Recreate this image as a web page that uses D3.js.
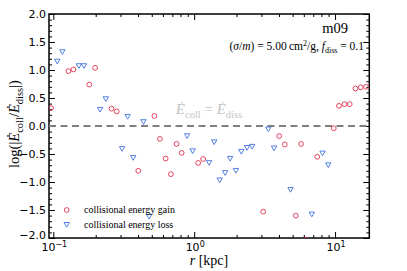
<!DOCTYPE html>
<html>
<head>
<meta charset="utf-8">
<script src="https://cdn.jsdelivr.net/npm/d3@7"></script>
<style>
  body { margin: 0; background: #fff; }
  svg { display: block; }
  .serif { font-family: "Liberation Serif", "DejaVu Serif", serif; }
</style>
</head>
<body>
<div id="chart"></div>
<script>
// radii [kpc] and log ratios
const gainR = [0.0963, 0.128, 0.139, 0.180, 0.198, 0.259, 0.282, 0.401, 0.522, 0.571,
  0.627, 0.684, 0.750, 0.815, 1.067, 1.158, 3.09, 4.01, 4.40, 5.74,
  5.26, 6.25, 7.48, 9.79, 10.66, 11.67, 12.7, 13.95, 15.2, 16.6];
const gainV = [0.32, 0.98, 1.01, 0.74, 1.04, 0.31, 0.26, -0.80, 0.18, -0.23,
  -0.58, -0.86, -0.32, -0.48, -0.66, -0.59, -1.53, -0.18, -0.33, -0.32,
  -1.60, -2.03, -0.55, -0.04, 0.36, 0.39, 0.39, 0.67, 0.69, 0.70];

const lossR = [0.1067, 0.116, 0.152, 0.165, 0.215, 0.236, 0.308, 0.337, 0.369, 0.436,
  0.479, 0.891, 0.975, 1.276, 1.387, 1.517, 1.657, 1.80, 1.977, 2.16,
  2.37, 2.58, 3.36, 3.69, 4.83, 6.84, 8.15, 8.95];
const lossV = [1.16, 1.33, 1.08, 1.08, 0.30, 0.49, -0.40, 0.175, -0.56, 0.08,
  -1.61, -0.17, -0.44, -0.65, -0.28, -0.96, -0.83, -0.575, -0.79, -0.45,
  -0.38, -0.36, -0.05, -0.39, -1.13, -1.57, -0.48, -0.69];

const yTicks = [-2, -1.5, -1, -0.5, 0, 0.5, 1, 1.5, 2];
const xDecades = [-1, 0, 1];
const legendLabels = ["collisional energy gain", "collisional energy loss"];

const W = 407, H = 271;
const pLeft = 49, pRight = 369.3, pTop = 14, pBottom = 238;
const red = "#e2324f", blue = "#4272e0";

const svg = d3.select("#chart").append("svg")
  .attr("width", W).attr("height", H);

const x = d3.scaleLog().domain([0.0932, 17.5]).range([pLeft, pRight]);
const y = d3.scaleLinear().domain([-2, 2]).range([pBottom, pTop]);

// minor log ticks inside the domain
const minorX = [];
[-2, -1, 0, 1].forEach(k => {
  for (let m = 2; m <= 9; m++) {
    const v = m * Math.pow(10, k);
    if (v > x.domain()[0] && v < x.domain()[1]) minorX.push(v);
  }
});
const majorX = xDecades.map(k => Math.pow(10, k));
const minorY = d3.range(-20, 21).map(i => i / 10).filter(v => Math.abs(v * 2 - Math.round(v * 2)) > 1e-6);

function tickAxis(axis, tr, vals, size) {
  const g = svg.append("g").attr("transform", tr)
    .call(axis.tickValues(vals).tickSize(-size).tickFormat(""));
  g.select(".domain").remove();
  g.selectAll(".tick line").attr("stroke", "#000").attr("stroke-width", 1);
  return g;
}

// major + minor ticks on all four sides, pointing in
tickAxis(d3.axisBottom(x), `translate(0,${pBottom})`, majorX, 6);
tickAxis(d3.axisBottom(x), `translate(0,${pBottom})`, minorX, 3);
tickAxis(d3.axisTop(x), `translate(0,${pTop})`, majorX, 6);
tickAxis(d3.axisTop(x), `translate(0,${pTop})`, minorX, 3);
tickAxis(d3.axisLeft(y), `translate(${pLeft},0)`, yTicks, 6);
tickAxis(d3.axisLeft(y), `translate(${pLeft},0)`, minorY, 3);
tickAxis(d3.axisRight(y), `translate(${pRight},0)`, yTicks, 6);
tickAxis(d3.axisRight(y), `translate(${pRight},0)`, minorY, 3);

// y tick labels
const fmt = d3.format(".1f");
svg.append("g").selectAll("text").data(yTicks).enter().append("text")
  .attr("x", pLeft - 3).attr("y", d => y(d) - (d === -2 ? 3 : 0)).attr("dy", "0.36em")
  .attr("text-anchor", "end")
  .style("font-family", "DejaVu Sans, sans-serif").style("font-size", "11px")
  .text(d => fmt(d));

// x tick labels 10^k
const xl = svg.append("g").selectAll("text").data(xDecades).enter().append("text")
  .attr("x", d => x(Math.pow(10, d)) + 1).attr("y", 251)
  .attr("text-anchor", "middle")
  .style("font-family", "DejaVu Sans, sans-serif").style("font-size", "11px");
xl.append("tspan").text("10");
xl.append("tspan").attr("dy", -4).style("font-size", "8px")
  .text(d => d < 0 ? "\u2212" + Math.abs(d) : d);

// frame
svg.append("rect").attr("x", pLeft).attr("y", pTop)
  .attr("width", pRight - pLeft).attr("height", pBottom - pTop)
  .attr("fill", "none").attr("stroke", "#000").attr("stroke-width", 1.5);

// zero line
svg.append("line")
  .attr("x1", pLeft).attr("x2", pRight).attr("y1", y(0)).attr("y2", y(0))
  .attr("stroke", "#7f7f7f").attr("stroke-width", 1.8).attr("stroke-dasharray", "7,4.5");

// equality label
const eq = svg.append("text").attr("class", "serif")
  .attr("x", 209).attr("y", 114).attr("text-anchor", "middle")
  .style("font-size", "15px").attr("fill", "#c4c4c4");
eq.append("tspan").style("font-style", "italic").text("\u0116");
eq.append("tspan").attr("dy", 3.5).style("font-size", "10.5px").text("coll");
eq.append("tspan").attr("dy", -3.5).text(" = ");
eq.append("tspan").style("font-style", "italic").text("\u0116");
eq.append("tspan").attr("dy", 3.5).style("font-size", "10.5px").text("diss");

// clip for markers
svg.append("clipPath").attr("id", "clip").append("rect")
  .attr("x", pLeft).attr("y", pTop).attr("width", pRight - pLeft).attr("height", pBottom - pTop);
const plot = svg.append("g").attr("clip-path", "url(#clip)");

const tri = "M-2.7,-1.8L2.7,-1.8L0,2.9Z";

plot.selectAll("circle.gain").data(d3.range(gainR.length)).enter().append("circle")
  .attr("cx", i => x(gainR[i])).attr("cy", i => y(gainV[i])).attr("r", 2.4)
  .attr("fill", "none").attr("stroke", red).attr("stroke-width", 0.9);

plot.selectAll("path.loss").data(d3.range(lossR.length)).enter().append("path")
  .attr("d", tri)
  .attr("transform", i => `translate(${x(lossR[i])},${y(lossV[i])})`)
  .attr("fill", "none").attr("stroke", blue).attr("stroke-width", 0.9);

// legend
const lg = svg.append("g");
lg.append("circle").attr("cx", 66.7).attr("cy", 210).attr("r", 2.4)
  .attr("fill", "none").attr("stroke", red).attr("stroke-width", 0.9);
lg.append("path").attr("d", tri).attr("transform", "translate(66.7,224.3)")
  .attr("fill", "none").attr("stroke", blue).attr("stroke-width", 0.9);
lg.selectAll("text").data(legendLabels).enter().append("text").attr("class", "serif")
  .attr("x", 84).attr("y", (d, i) => 213.2 + i * 14.3)
  .style("font-size", "10px").text(d => d);

// annotations top right
svg.append("text").attr("class", "serif").attr("x", 348).attr("y", 33)
  .attr("text-anchor", "end").style("font-size", "14.5px").text("m09");

const ann = svg.append("text").attr("class", "serif").attr("x", 364).attr("y", 50)
  .attr("text-anchor", "end").style("font-size", "11.5px");
ann.append("tspan").text("(");
ann.append("tspan").style("font-style", "italic").text("\u03c3");
ann.append("tspan").text("/");
ann.append("tspan").style("font-style", "italic").text("m");
ann.append("tspan").text(") = 5.00\u2009cm");
ann.append("tspan").attr("dy", -4.5).style("font-size", "8px").text("2");
ann.append("tspan").attr("dy", 4.5).text("/g, ");
ann.append("tspan").style("font-style", "italic").text("f");
ann.append("tspan").attr("dy", 2.5).style("font-size", "8px").text("diss");
ann.append("tspan").attr("dy", -2.5).text(" = 0.1");

// axis labels
const xlab = svg.append("text").attr("class", "serif").attr("x", 209).attr("y", 265)
  .attr("text-anchor", "middle").style("font-size", "14px");
xlab.append("tspan").style("font-style", "italic").text("r");
xlab.append("tspan").text(" [kpc]");

const ylab = svg.append("text").attr("class", "serif")
  .attr("transform", "translate(19,124) rotate(-90)")
  .attr("text-anchor", "middle").style("font-size", "14.5px");
ylab.append("tspan").text("log(|");
ylab.append("tspan").style("font-style", "italic").text("\u0116");
ylab.append("tspan").attr("dy", 3.5).style("font-size", "10.5px").text("coll");
ylab.append("tspan").attr("dy", -3.5).text("/");
ylab.append("tspan").style("font-style", "italic").text("\u0116");
ylab.append("tspan").attr("dy", 3.5).style("font-size", "10.5px").text("diss");
ylab.append("tspan").attr("dy", -3.5).text("|)");
</script>
</body>
</html>
